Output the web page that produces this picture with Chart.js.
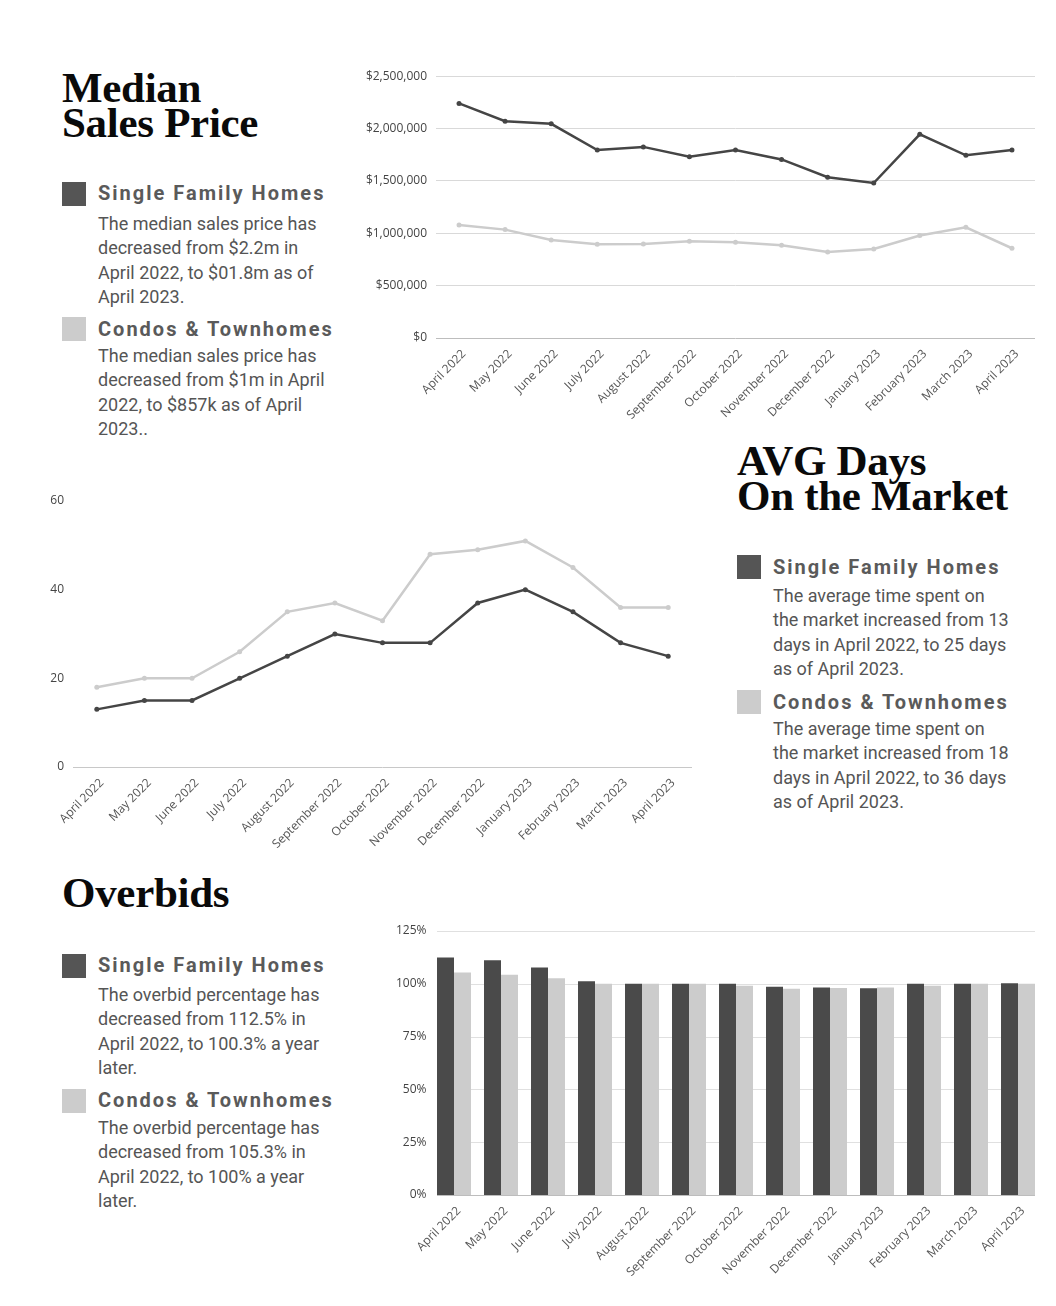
<!DOCTYPE html>
<html>
<head>
<meta charset="utf-8">
<script src="https://cdn.jsdelivr.net/npm/chart.js@4.4.1/dist/chart.umd.min.js"></script>
<style>
  html, body { margin:0; padding:0; background:#fff; }
  body { width:1056px; height:1306px; position:relative; overflow:hidden; }
  canvas { position:absolute; }
  .title { position:absolute; font-family:'Liberation Serif', serif; font-weight:700; font-size:43px; line-height:35px; color:#0a0a0a; letter-spacing:-0.3px; white-space:nowrap; }
  .sq { position:absolute; width:24px; height:24px; }
  .dark { background:#555555; }
  .light { background:#cccccc; }
  .h { position:absolute; font-family:Roboto, sans-serif; font-weight:700; font-size:20px; line-height:24px; color:#5a5a5a; letter-spacing:2px; white-space:nowrap; }
  .b { position:absolute; font-family:Roboto, sans-serif; font-weight:400; font-size:18px; line-height:24.3px; color:#555; white-space:nowrap; }
</style>
</head>
<body>

<div class="title" style="left:62px; top:70px;">Median<br>Sales Price</div>
<div class="sq dark" style="left:62px; top:182px;"></div>
<div class="h" style="left:98px; top:181px;">Single Family Homes</div>
<div class="b" style="left:98px; top:212px;">The median sales price has<br>decreased from $2.2m in<br>April 2022, to $01.8m as of<br>April 2023.</div>
<div class="sq light" style="left:62px; top:317px;"></div>
<div class="h" style="left:98px; top:317px;">Condos &amp; Townhomes</div>
<div class="b" style="left:98px; top:344px;">The median sales price has<br>decreased from $1m in April<br>2022, to $857k as of April<br>2023..</div>

<div class="title" style="left:737px; top:443px;">AVG Days<br>On the Market</div>
<div class="sq dark" style="left:737px; top:555px;"></div>
<div class="h" style="left:773px; top:555px;">Single Family Homes</div>
<div class="b" style="left:773px; top:584px;">The average time spent on<br>the market increased from 13<br>days in April 2022, to 25 days<br>as of April 2023.</div>
<div class="sq light" style="left:737px; top:690px;"></div>
<div class="h" style="left:773px; top:690px;">Condos &amp; Townhomes</div>
<div class="b" style="left:773px; top:717px;">The average time spent on<br>the market increased from 18<br>days in April 2022, to 36 days<br>as of April 2023.</div>

<div class="title" style="left:62px; top:875px;">Overbids</div>
<div class="sq dark" style="left:62px; top:954px;"></div>
<div class="h" style="left:98px; top:953px;">Single Family Homes</div>
<div class="b" style="left:98px; top:983px;">The overbid percentage has<br>decreased from 112.5% in<br>April 2022, to 100.3% a year<br>later.</div>
<div class="sq light" style="left:62px; top:1089px;"></div>
<div class="h" style="left:98px; top:1088px;">Condos &amp; Townhomes</div>
<div class="b" style="left:98px; top:1116px;">The overbid percentage has<br>decreased from 105.3% in<br>April 2022, to 100% a year<br>later.</div>

<canvas id="c1" width="710" height="380" style="left:340px; top:60px;"></canvas>
<canvas id="c2" width="710" height="380" style="left:0px; top:480px;"></canvas>
<canvas id="c3" width="710" height="391" style="left:340px; top:915px;"></canvas>

<script>
const months = ["April 2022","May 2022","June 2022","July 2022","August 2022","September 2022","October 2022","November 2022","December 2022","January 2023","February 2023","March 2023","April 2023"];

const priceSingleFamily = [2240000,2070000,2045000,1795000,1825000,1730000,1795000,1705000,1535000,1480000,1945000,1745000,1795000];
const priceCondos = [1080000,1035000,935000,895000,897000,925000,915000,885000,822000,850000,978000,1057000,857000];

const daysSingleFamily = [13,15,15,20,25,30,28,28,37,40,35,28,25];
const daysCondos = [18,20,20,26,35,37,33,48,49,51,45,36,36];

const overbidSingleFamily = [112.5,111.1,107.7,101.2,100,100,100,98.6,98.3,97.9,100,100,100.3];
const overbidCondos = [105.3,104.3,102.6,100,100,100,99.1,97.7,98.0,98.3,99.1,100,100];

const DARK = '#454545';
const LIGHT = '#cccccc';
const BAR_DARK = '#4a4a4a';

Chart.defaults.font.family = "'Open Sans', sans-serif";
Chart.defaults.font.size = 12;
Chart.defaults.color = '#555';
Chart.defaults.animation = false;
Chart.defaults.plugins.legend.display = false;
Chart.defaults.plugins.tooltip.enabled = false;

function lineDS(data, color) {
  return { data, borderColor: color, backgroundColor: color, borderWidth: 2.5,
    pointRadius: 2.5, pointBorderWidth: 0, pointBackgroundColor: color, tension: 0 };
}

function xAxis(h) {
  return {
    offset: true,
    grid: { display: false, drawTicks: false },
    border: { display: false },
    ticks: { autoSkip: false, minRotation: 45, maxRotation: 45, padding: 9, labelOffset: 5, color: '#555' },
    afterFit: s => { s.height = h; }
  };
}

new Chart(document.getElementById('c1'), {
  type: 'line',
  data: { labels: months, datasets: [lineDS(priceCondos, LIGHT), lineDS(priceSingleFamily, DARK)] },
  options: {
    responsive: false, devicePixelRatio: 1,
    layout: { padding: { left: 0, right: 15, top: 15, bottom: 0 } },
    scales: {
      x: xAxis(102),
      y: {
        min: 0, max: 2500000,
        border: { display: false },
        grid: { drawTicks: false, color: c => c.tick && c.tick.value === 0 ? '#bdbdbd' : '#d9d9d9' },
        ticks: { stepSize: 500000, padding: 9, color: '#444', callback: v => '$' + Number(v).toLocaleString('en-US') },
        afterFit: s => { s.width = 96; }
      }
    }
  }
});

new Chart(document.getElementById('c2'), {
  type: 'line',
  data: { labels: months, datasets: [lineDS(daysCondos, LIGHT), lineDS(daysSingleFamily, DARK)] },
  options: {
    responsive: false, devicePixelRatio: 1,
    layout: { padding: { left: 0, right: 18, top: 21, bottom: 0 } },
    scales: {
      x: xAxis(93),
      y: {
        min: 0, max: 60,
        border: { display: false },
        grid: { drawTicks: false, color: c => c.tick && c.tick.value === 0 ? '#c8c8c8' : 'rgba(0,0,0,0)' },
        ticks: { stepSize: 20, padding: 9, color: '#444' },
        afterFit: s => { s.width = 73; }
      }
    }
  }
});

const barGridPlugin = {
  id: 'barGrid',
  beforeDatasetsDraw(chart) {
    const y = chart.scales.y;
    const m0 = chart.getDatasetMeta(0).data;
    const m1 = chart.getDatasetMeta(1).data;
    const left = m0[0].x - m0[0].width / 2;
    const last = m1[m1.length - 1];
    const right = last.x + last.width / 2;
    const ctx = chart.ctx;
    ctx.save();
    ctx.lineWidth = 1;
    y.ticks.forEach(t => {
      const py = Math.round(y.getPixelForValue(t.value)) + 0.5;
      ctx.strokeStyle = t.value === 0 ? '#bdbdbd' : '#e0e0e0';
      ctx.beginPath(); ctx.moveTo(left, py); ctx.lineTo(right, py); ctx.stroke();
    });
    ctx.restore();
  }
};

new Chart(document.getElementById('c3'), {
  type: 'bar',
  data: { labels: months, datasets: [
    { data: overbidSingleFamily, backgroundColor: BAR_DARK, categoryPercentage: 0.723, barPercentage: 1.0 },
    { data: overbidCondos, backgroundColor: LIGHT, categoryPercentage: 0.723, barPercentage: 1.0 }
  ] },
  options: {
    responsive: false, devicePixelRatio: 1,
    layout: { padding: { left: 0, right: 8.5, top: 16, bottom: 0 } },
    scales: {
      x: xAxis(111),
      y: {
        min: 0, max: 125,
        border: { display: false },
        grid: { display: false, drawTicks: false },
        ticks: { stepSize: 25, padding: 4, color: '#444', callback: v => v + '%' },
        afterFit: s => { s.width = 90.5; }
      }
    }
  },
  plugins: [barGridPlugin]
});
</script>
</body>
</html>
